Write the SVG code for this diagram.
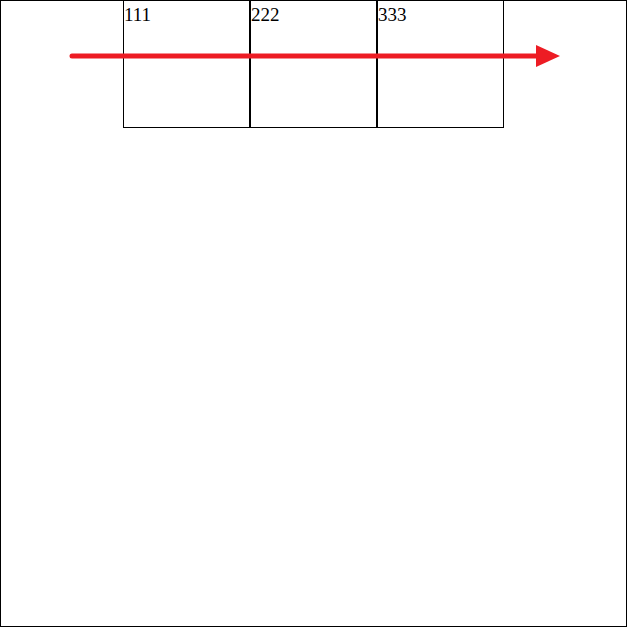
<svg xmlns="http://www.w3.org/2000/svg" width="627" height="627" viewBox="0 0 627 627">
<style>
.box{fill:#fff;stroke:#000;stroke-width:1}
.div{stroke:#000;stroke-width:2}
.lbl{font-family:"Liberation Serif","Times New Roman",serif;font-size:19px;fill:#000}
.conn{stroke:#ed1c24;stroke-width:5;stroke-linecap:round;fill:none}
</style>
<defs>
<marker id="ah" markerUnits="userSpaceOnUse" markerWidth="26" markerHeight="24" refX="2" refY="11" orient="auto">
<path d="M0,0 L24,11 L0,22 Z" fill="#ed1c24"/>
</marker>
</defs>
<rect x="0.5" y="0.5" width="626" height="626" fill="#fff" stroke="#000" stroke-width="1"/>
<line x1="123" y1="1" x2="503" y2="1" stroke="#000" stroke-width="2"/>
<g id="node1"><rect class="box" x="123.5" y="0.5" width="126.5" height="127"/><text class="lbl" x="124" y="21">111</text></g>
<g id="node2"><rect class="box" x="250" y="0.5" width="127" height="127"/><text class="lbl" x="251" y="21">222</text></g>
<g id="node3"><rect class="box" x="377" y="0.5" width="126.5" height="127"/><text class="lbl" x="378" y="21">333</text></g>
<line class="div" x1="250" y1="0" x2="250" y2="127.5"/>
<line class="div" x1="377" y1="0" x2="377" y2="127.5"/>
<g id="connectors">
<line class="conn" x1="72" y1="56" x2="538" y2="56" marker-end="url(#ah)"/>
</g>
</svg>
